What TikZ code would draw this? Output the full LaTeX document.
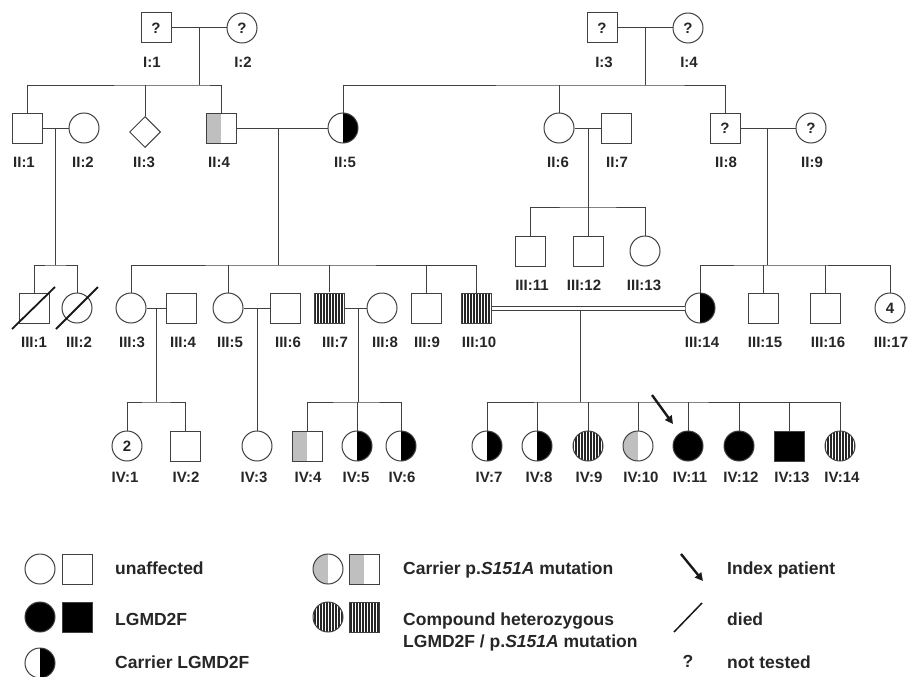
\documentclass[tikz,border=0pt]{standalone}
\usepackage{fontspec}
\setmainfont{Liberation Sans}
\usetikzlibrary{shapes.geometric,patterns.meta,arrows.meta}
\tikzset{
  ln/.style={draw=black!75, line width=1pt},
  conn/.style={draw=black!75, line width=1pt},
  m/.style={ln, rectangle, minimum size=30pt, inner sep=0pt, fill=white},
  f/.style={ln, circle, minimum size=30pt, inner sep=0pt, fill=white},
  u/.style={ln, diamond, minimum width=31pt, minimum height=31pt, inner sep=0pt, fill=white},
  aff/.style={fill=black},
  hetR/.style={path picture={\fill[black] (path picture bounding box.north) rectangle (path picture bounding box.south east);}},
  grayL/.style={path picture={\fill[black!25] (path picture bounding box.north west) rectangle (path picture bounding box.south);}},
  strp/.style={pattern={Lines[angle=90,distance=3pt,line width=1.6pt]}, pattern color=black!85},
  sym/.style={font=\bfseries\fontsize{15}{18}\selectfont, text=black!85},
  lbl/.style={font=\bfseries\fontsize{15}{18}\selectfont, text=black!85, anchor=base, inner sep=0pt},
  leg/.style={font=\bfseries\fontsize{17.5}{21}\selectfont, text=black!85, anchor=base west, inner sep=0pt},
  slash/.style={draw=black!90, line width=1.8pt},
  idx/.style={draw=black!90, line width=2.4pt, -{Triangle[length=8pt,width=8pt]}},
  dbl/.style={draw=black!75, line width=1pt, double=white, double distance=3pt},
}
\begin{document}
\begin{tikzpicture}[x=1pt,y=-1pt]
\useasboundingbox (0,0) rectangle (910,677);
% ---------- Generation I
\node[m,sym] (I1) at (156,28) {?};
\node[f,sym] (I2) at (242,28) {?};
\node[m,sym] (I3) at (602,28) {?};
\node[f,sym] (I4) at (688,28) {?};
% ---------- Generation II
\node[m] (II1) at (27,128) {};
\node[f] (II2) at (84,128) {};
\node[u] (II3) at (145,132) {};
\node[m,grayL] (II4) at (221,128) {};
\node[f,hetR] (II5) at (343,128) {};
\node[f] (II6) at (559,128) {};
\node[m] (II7) at (616,128) {};
\node[m,sym] (II8) at (725,128) {?};
\node[f,sym] (II9) at (811,128) {?};
% ---------- Generation III
\node[m] (III1) at (34,308) {};
\node[f] (III2) at (77,308) {};
\node[f] (III3) at (131,308) {};
\node[m] (III4) at (181,308) {};
\node[f] (III5) at (228,308) {};
\node[m] (III6) at (285,308) {};
\node[m,strp] (III7) at (329,308) {};
\node[f] (III8) at (382,308) {};
\node[m] (III9) at (426,308) {};
\node[m,strp] (III10) at (476,308) {};
\node[m] (III11) at (530,251) {};
\node[m] (III12) at (588,251) {};
\node[f] (III13) at (645,251) {};
\node[f,hetR] (III14) at (700,308) {};
\node[m] (III15) at (763,308) {};
\node[m] (III16) at (825,308) {};
\node[f,sym] (III17) at (890,308) {4};
% ---------- Generation IV
\node[f,sym] (IV1) at (127,446) {2};
\node[m] (IV2) at (185,446) {};
\node[f] (IV3) at (257,446) {};
\node[m,grayL] (IV4) at (307,446) {};
\node[f,hetR] (IV5) at (357,446) {};
\node[f,hetR] (IV6) at (401,446) {};
\node[f,hetR] (IV7) at (487,446) {};
\node[f,hetR] (IV8) at (537,446) {};
\node[f,strp] (IV9) at (588,446) {};
\node[f,grayL] (IV10) at (638,446) {};
\node[f,aff] (IV11) at (688,446) {};
\node[f,aff] (IV12) at (739,446) {};
\node[m,aff] (IV13) at (789,446) {};
\node[f,strp] (IV14) at (840,446) {};
% ---------- labels
\node[lbl] (lI1) at (152,67) {I:1};
\node[lbl] (lI2) at (243,67) {I:2};
\node[lbl] (lI3) at (604,67) {I:3};
\node[lbl] (lI4) at (689,67) {I:4};
\node[lbl] (lII1) at (24,167) {II:1};
\node[lbl] (lII2) at (83,167) {II:2};
\node[lbl] (lII3) at (144,167) {II:3};
\node[lbl] (lII4) at (219,167) {II:4};
\node[lbl] (lII5) at (345,167) {II:5};
\node[lbl] (lII6) at (558,167) {II:6};
\node[lbl] (lII7) at (617,167) {II:7};
\node[lbl] (lII8) at (726,167) {II:8};
\node[lbl] (lII9) at (812,167) {II:9};
\node[lbl] (lIII1) at (34,347) {III:1};
\node[lbl] (lIII2) at (79,347) {III:2};
\node[lbl] (lIII3) at (132,347) {III:3};
\node[lbl] (lIII4) at (183,347) {III:4};
\node[lbl] (lIII5) at (230,347) {III:5};
\node[lbl] (lIII6) at (288,347) {III:6};
\node[lbl] (lIII7) at (335,347) {III:7};
\node[lbl] (lIII8) at (385,347) {III:8};
\node[lbl] (lIII9) at (427,347) {III:9};
\node[lbl] (lIII10) at (479,347) {III:10};
\node[lbl] (lIII11) at (532,290) {III:11};
\node[lbl] (lIII12) at (584,290) {III:12};
\node[lbl] (lIII13) at (644,290) {III:13};
\node[lbl] (lIII14) at (702,347) {III:14};
\node[lbl] (lIII15) at (765,347) {III:15};
\node[lbl] (lIII16) at (828,347) {III:16};
\node[lbl] (lIII17) at (891,347) {III:17};
\node[lbl] (lIV1) at (125,482) {IV:1};
\node[lbl] (lIV2) at (186,482) {IV:2};
\node[lbl] (lIV3) at (254,482) {IV:3};
\node[lbl] (lIV4) at (308,482) {IV:4};
\node[lbl] (lIV5) at (356,482) {IV:5};
\node[lbl] (lIV6) at (402,482) {IV:6};
\node[lbl] (lIV7) at (489,482) {IV:7};
\node[lbl] (lIV8) at (539,482) {IV:8};
\node[lbl] (lIV9) at (589,482) {IV:9};
\node[lbl] (lIV10) at (641,482) {IV:10};
\node[lbl] (lIV11) at (690,482) {IV:11};
\node[lbl] (lIV12) at (741,482) {IV:12};
\node[lbl] (lIV13) at (792,482) {IV:13};
\node[lbl] (lIV14) at (842,482) {IV:14};
% ---------- connectors: generation I -> II
\coordinate (d12) at (199,28); \coordinate (s12) at (199,85);
\draw[conn] (I1) -- (I2);
\draw[conn] (d12) -- (s12);
\draw[conn] (II1) |- (s12) -| (II4);
\draw[conn] (II3) -- (II3 |- s12);
\coordinate (d34) at (645,28); \coordinate (s34) at (645,85);
\draw[conn] (I3) -- (I4);
\draw[conn] (d34) -- (s34);
\draw[conn] (II5) |- (s34) -| (II8);
\draw[conn] (II6) -- (II6 |- s34);
% ---------- generation II -> III
\coordinate (dII12) at (55,128); \coordinate (sII12) at (55,265);
\draw[conn] (II1) -- (II2);
\draw[conn] (dII12) -- (sII12);
\draw[conn] (III1) |- (sII12) -| (III2);
\coordinate (d45) at (278,128); \coordinate (s45) at (278,265);
\draw[conn] (II4) -- (II5);
\draw[conn] (d45) -- (s45);
\draw[conn] (III3) |- (s45) -| (III10);
\draw[conn] (III5) -- (III5 |- s45);
\draw[conn] (III7) -- (III7 |- s45);
\draw[conn] (III9) -- (III9 |- s45);
\coordinate (d67) at (588,128); \coordinate (s67) at (588,207);
\draw[conn] (II6) -- (II7);
\draw[conn] (d67) -- (s67);
\draw[conn] (III11) |- (s67) -| (III13);
\draw[conn] (III12) -- (s67);
\coordinate (d89) at (767,128); \coordinate (s89) at (767,265);
\draw[conn] (II8) -- (II9);
\draw[conn] (d89) -- (s89);
\draw[conn] (III14) |- (s89) -| (III17);
\draw[conn] (III15) -- (III15 |- s89);
\draw[conn] (III16) -- (III16 |- s89);
% ---------- generation III -> IV
\coordinate (d34b) at (156,308); \coordinate (s34b) at (156,402);
\draw[conn] (III3) -- (III4);
\draw[conn] (d34b) -- (s34b);
\draw[conn] (IV1) |- (s34b) -| (IV2);
\coordinate (d56) at (257,308);
\draw[conn] (III5) -- (III6);
\draw[conn] (d56) -- (IV3);
\coordinate (d78) at (358,308); \coordinate (s78) at (358,402);
\draw[conn] (III7) -- (III8);
\draw[conn] (d78) -- (s78);
\draw[conn] (IV4) |- (s78) -| (IV6);
\draw[conn] (IV5) -- (IV5 |- s78);
\coordinate (d1014) at (580,308); \coordinate (s1014) at (580,402);
\draw[conn] (d1014) -- (s1014);
\draw[dbl] (III10) -- (III14);
\draw[conn] (IV7) |- (s1014) -| (IV14);
\foreach \n in {IV8,IV9,IV10,IV11,IV12,IV13}
  \draw[conn] (\n) -- (\n |- s1014);
% ---------- death slashes and index arrow
\draw[slash] ([shift={(-22,21)}]III1.center) -- ([shift={(21,-21)}]III1.center);
\draw[slash] ([shift={(-21,21)}]III2.center) -- ([shift={(21,-21)}]III2.center);
\coordinate (arS) at (652,395); \coordinate (arE) at (673,424);
\draw[idx] (arS) -- (arE);
% ---------- legend
\node[f] (Lf1) at (40,569) {};
\node[m] (Lm1) at (77,569) {};
\node[leg] (Lt1) at (115,574) {unaffected};
\node[f,aff] (Lf2) at (40,617) {};
\node[m,aff] (Lm2) at (77,617) {};
\node[leg] (Lt2) at (115,625) {LGMD2F};
\node[f,hetR] (Lf3) at (40,663) {};
\node[leg] (Lt3) at (115,668) {Carrier LGMD2F};
\node[f,grayL] (Lf4) at (328,569) {};
\node[m,grayL] (Lm4) at (364,569) {};
\node[leg] (Lt4) at (403,574) {Carrier p.\textit{S151A} mutation};
\node[f,strp] (Lf5) at (328,617) {};
\node[m,strp] (Lm5) at (364,617) {};
\node[leg] (Lt5a) at (403,625) {Compound heterozygous};
\node[leg] (Lt5b) at (403,647) {LGMD2F / p.\textit{S151A} mutation};
\coordinate (LaS) at (681,554); \coordinate (LaE) at (703,581);
\draw[idx] (LaS) -- (LaE);
\node[leg] (Lt6) at (727,574) {Index patient};
\coordinate (LsS) at (674,632); \coordinate (LsE) at (702,603);
\draw[slash,line width=1.5pt] (LsS) -- (LsE);
\node[leg] (Lt7) at (727,625) {died};
\node[leg,anchor=base] (Lq) at (688,667) {?};
\node[leg] (Lt8) at (727,668) {not tested};
\end{tikzpicture}
\end{document}
